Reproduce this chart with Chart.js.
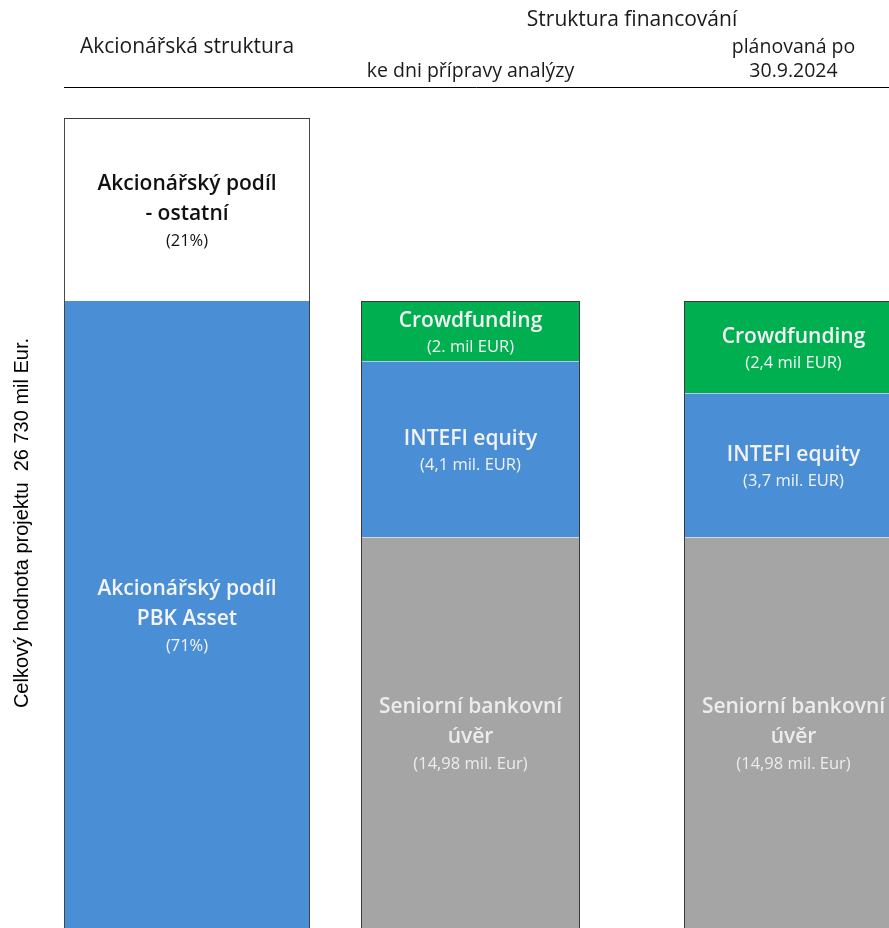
<!DOCTYPE html>
<html>
<head>
<meta charset="utf-8">
<script src="https://cdn.jsdelivr.net/npm/chart.js@4.4.0/dist/chart.umd.min.js"></script>
<style>
  html, body { margin: 0; padding: 0; background: #fff; overflow: hidden; }
</style>
</head>
<body>
<canvas id="struktura" width="889" height="928"></canvas>
<script>
// column groups and headings
const groups = ['Akcionářská struktura', 'Struktura financování'];
const barHeads = [['Akcionářská struktura'], ['ke dni přípravy analýzy'], ['plánovaná po', '30.9.2024']];
const axisTitle = 'Celkový hodnota projektu  26 730 mil Eur.';

// bar 1 - shareholders (heights, mil EUR)
const pbkAsset = [20.88, null];
const ostatni = [4.58, null];
// bar 2 - ke dni pripravy analyzy
const uverNow = [null, 14.98];
const intefiNow = [null, 4.4];
const crowdNow = [null, 1.5];
// bar 3 - planovana po 30.9.2024
const uverPlan = [null, 14.98];
const intefiPlan = [null, 3.6];
const crowdPlan = [null, 2.3];

// segment texts
const txtPbk = [['Akcionářský podíl', 'PBK Asset'], '(71%)'];
const txtOstatni = [['Akcionářský podíl', '- ostatní'], '(21%)'];
const txtUver = [['Seniorní bankovní', 'úvěr'], '(14,98 mil. Eur)'];
const txtIntefiNow = [['INTEFI equity'], '(4,1 mil. EUR)'];
const txtCrowdNow = [['Crowdfunding'], '(2. mil EUR)'];
const txtIntefiPlan = [['INTEFI equity'], '(3,7 mil. EUR)'];
const txtCrowdPlan = [['Crowdfunding'], '(2,4 mil EUR)'];

const BLUE = '#4a8fd6';
const GREEN = '#00b050';
const GREY = '#a5a5a5';
const EDGE = '#3a3a3a';
const FONT = '"Open Sans", Lato, sans-serif';

const sides = { left: 1, right: 1, top: 0, bottom: 0 };
const topSides = { left: 1, right: 1, top: 1, bottom: 0 };

// bar 1 is wider than the two financing bars
const wide = { stack: 'akcionari', categoryPercentage: 1, barPercentage: 0.553 };
const narrowNow = { stack: 'now', categoryPercentage: 1.4517, barPercentage: 0.678 };
const narrowPlan = { stack: 'plan', categoryPercentage: 1.4517, barPercentage: 0.678 };

function seg(data, color, txt, textColor, group, isTop, sep) {
    return Object.assign({
        data: data,
        backgroundColor: color,
        borderColor: EDGE,
        borderWidth: isTop ? topSides : sides,
        borderSkipped: false,
        skipNull: true,
        clip: false,
        txt: txt,
        textColor: textColor,
        sep: sep
    }, group);
}

const datasets = [
    seg(pbkAsset, BLUE, txtPbk, '#f4f4f4', wide, false, false),
    seg(ostatni, '#ffffff', txtOstatni, '#111111', wide, true, false),
    seg(uverNow, GREY, txtUver, '#ececec', narrowNow, false, false),
    seg(intefiNow, BLUE, txtIntefiNow, '#f2f2f2', narrowNow, false, true),
    seg(crowdNow, GREEN, txtCrowdNow, '#f4f4f4', narrowNow, true, true),
    seg(uverPlan, GREY, txtUver, '#ececec', narrowPlan, false, false),
    seg(intefiPlan, BLUE, txtIntefiPlan, '#f2f2f2', narrowPlan, false, true),
    seg(crowdPlan, GREEN, txtCrowdPlan, '#f4f4f4', narrowPlan, true, true)
];

// texts inside the segments + light separators between segments
const segmentLabels = {
    id: 'segmentLabels',
    afterDatasetsDraw(chart) {
        const { ctx, chartArea } = chart;
        chart.data.datasets.forEach((ds, i) => {
            chart.getDatasetMeta(i).data.forEach((bar, j) => {
                if (ds.data[j] == null) return;
                const p = bar.getProps(['x', 'y', 'base', 'width'], true);
                ctx.save();
                if (ds.sep) {
                    // light line where the segment meets the one below
                    const below = p.base;
                    ctx.strokeStyle = 'rgba(255,255,255,0.55)';
                    ctx.lineWidth = 1;
                    ctx.beginPath();
                    ctx.moveTo(p.x - p.width / 2 + 1, Math.round(below) + 0.5);
                    ctx.lineTo(p.x + p.width / 2 - 1, Math.round(below) + 0.5);
                    ctx.stroke();
                }
                const top = Math.max(p.y, chartArea.top);
                const bottom = Math.min(p.base, chartArea.bottom);
                const c = (top + bottom) / 2;
                const titles = ds.txt[0];
                const span = 30 * (titles.length - 1) + 27;
                let y = c - span / 2 + 3;
                ctx.fillStyle = ds.textColor;
                ctx.textAlign = 'center';
                ctx.textBaseline = 'middle';
                ctx.font = '600 21px ' + FONT;
                titles.forEach((t, k) => {
                    ctx.fillText(t, p.x, y + k * 30);
                });
                ctx.font = '16.5px ' + FONT;
                ctx.fillText(ds.txt[1], p.x, y + 30 * (titles.length - 1) + 27);
                ctx.restore();
            });
        });
    }
};

// column headings above the bars
const headings = {
    id: 'headings',
    afterDraw(chart) {
        const { ctx } = chart;
        const bar1 = chart.getDatasetMeta(0).data[0];
        const bar2 = chart.getDatasetMeta(2).data[1];
        const bar3 = chart.getDatasetMeta(5).data[1];
        const xs = chart.scales.x;
        ctx.save();
        ctx.fillStyle = '#1a1a1a';
        ctx.textAlign = 'center';
        ctx.textBaseline = 'middle';
        ctx.font = '21px ' + FONT;
        ctx.fillText(groups[1], xs.getPixelForValue(1), 20);
        ctx.fillText(barHeads[0][0], bar1.x, 47);
        ctx.font = '19.5px ' + FONT;
        ctx.fillText(barHeads[1][0], bar2.x, 71);
        ctx.fillText(barHeads[2][0], bar3.x, 47);
        ctx.fillText(barHeads[2][1], bar3.x, 71);
        // rule under the headings
        ctx.strokeStyle = '#000';
        ctx.lineWidth = 1;
        ctx.beginPath();
        ctx.moveTo(bar1.x - bar1.width / 2, 87.5);
        ctx.lineTo(chart.width, 87.5);
        ctx.stroke();
        ctx.restore();
    }
};

const chart = new Chart('struktura', {
    type: 'bar',
    data: { labels: groups, datasets: datasets },
    options: {
        responsive: false,
        animation: false,
        layout: { padding: { top: 118, right: 257, bottom: 0, left: 0 } },
        plugins: {
            legend: { display: false },
            tooltip: { enabled: false }
        },
        scales: {
            x: {
                type: 'category',
                stacked: true,
                offset: false,
                display: false
            },
            y: {
                stacked: true,
                min: 5.2,
                max: pbkAsset[0] + ostatni[0],
                ticks: { display: false },
                grid: { display: false },
                border: { display: false },
                title: {
                    display: true,
                    text: axisTitle,
                    color: '#000',
                    font: { family: '"Liberation Sans", Arial, sans-serif', size: 20 },
                    padding: { top: 10, bottom: 0 }
                },
                afterFit: (scale) => { scale.width = 187; }
            }
        }
    },
    plugins: [segmentLabels, headings]
});
</script>
</body>
</html>
